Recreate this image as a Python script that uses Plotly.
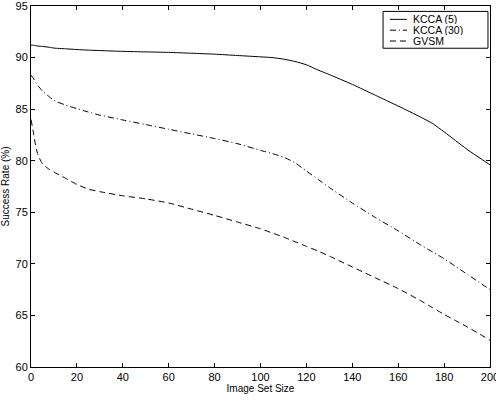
import plotly.graph_objects as go

image_set_size = [0, 1, 2, 3, 5, 8, 10, 15, 20, 25, 30, 40, 50, 60, 70, 80, 90, 100, 105, 110, 115, 120, 125, 130, 140, 150, 160, 170, 175, 180, 185, 190, 200]
kcca5 = [91.2, 91.2, 91.15, 91.12, 91.08, 91.0, 90.92, 90.85, 90.78, 90.72, 90.68, 90.6, 90.55, 90.5, 90.42, 90.33, 90.2, 90.07, 90.0, 89.85, 89.62, 89.3, 88.8, 88.35, 87.4, 86.35, 85.3, 84.2, 83.6, 82.8, 81.95, 81.1, 79.6]
kcca30 = [88.3, 88.0, 87.6, 87.3, 86.75, 86.2, 85.85, 85.4, 85.05, 84.72, 84.42, 83.95, 83.5, 83.05, 82.6, 82.15, 81.65, 81.0, 80.7, 80.35, 79.8, 79.0, 78.2, 77.4, 75.9, 74.5, 73.2, 71.8, 71.15, 70.5, 69.75, 69.0, 67.5]
gvsm = [84.0, 82.8, 81.5, 80.6, 79.7, 79.15, 78.9, 78.3, 77.7, 77.25, 77.0, 76.6, 76.3, 75.9, 75.3, 74.7, 74.05, 73.4, 73.0, 72.6, 72.15, 71.7, 71.25, 70.75, 69.7, 68.65, 67.6, 66.4, 65.75, 65.1, 64.5, 63.9, 62.6]

series = [
    ("KCCA (5)", kcca5, "solid"),
    ("KCCA (30)", kcca30, "6px,3px,1px,3px"),
    ("GVSM", gvsm, "6px,4px"),
]

FONT = "Liberation Sans, Arial"

fig = go.Figure()
for name, vals, dash in series:
    fig.add_trace(go.Scatter(x=image_set_size, y=vals, mode="lines", name=name,
                             line=dict(color="black", width=1, dash=dash, shape="spline", smoothing=0.6),
                             showlegend=False))

# custom compact legend (paper coordinates)
fig.add_shape(type="rect", xref="paper", yref="paper", x0=0.767, x1=0.9956, y0=0.883, y1=0.985,
              line=dict(color="black", width=1), fillcolor="white", layer="above")
row_y = [0.963, 0.933, 0.903]
for (name, vals, dash), yy in zip(series, row_y):
    fig.add_shape(type="line", xref="paper", yref="paper", x0=0.782, x1=0.819, y0=yy, y1=yy,
                  line=dict(color="black", width=1, dash=dash), layer="above")
    fig.add_annotation(xref="paper", yref="paper", x=0.830, y=yy, text=name, showarrow=False,
                       xanchor="left", yanchor="middle", height=10, borderpad=0,
                       font=dict(family=FONT, size=10.5, color="black"))

axis_common = dict(showgrid=False, zeroline=False, showline=True, linecolor="black",
                   linewidth=1, mirror="ticks", ticks="inside", ticklen=4,
                   tickcolor="black", ticklabeloverflow="allow", automargin=False,
                   tickfont=dict(family=FONT, size=11, color="black"))

fig.update_layout(
    width=496, height=402,
    margin=dict(l=31, r=6, t=6, b=35, autoexpand=False),
    paper_bgcolor="white", plot_bgcolor="white",
    font=dict(family=FONT, size=10, color="black"),
    xaxis=dict(range=[0, 200], tickvals=list(range(0, 201, 20)),
               title=dict(text="Image Set Size", standoff=2, font=dict(size=10)), **axis_common),
    yaxis=dict(range=[60, 95], tickvals=list(range(60, 96, 5)),
               title=dict(text="Success Rate (%)", standoff=4, font=dict(size=10)), **axis_common),
    showlegend=False,
)

fig.write_html("out.html")
